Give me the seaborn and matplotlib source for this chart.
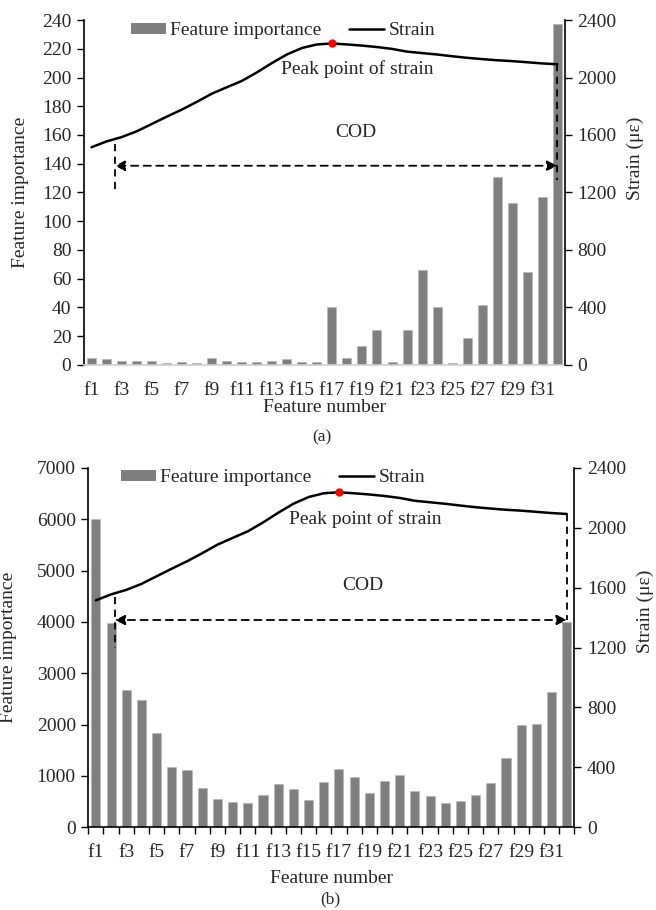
import numpy as np
import pandas as pd
import matplotlib
matplotlib.use('Agg')
import matplotlib.pyplot as plt
from matplotlib.lines import Line2D
from matplotlib.patches import Patch
import seaborn as sns

features = [f'f{i}' for i in range(1, 33)]
tick_labels = [f if i % 2 == 0 else '' for i, f in enumerate(features)]

importance_a = [5, 4, 3, 3, 3, 1, 2, 1, 5, 3, 2, 2, 3, 4, 2, 2,
                40, 5, 13, 24, 2, 24, 66, 40, 1, 19, 42, 131, 113, 65, 117, 237]
importance_b = [6000, 3980, 2670, 2470, 1845, 1175, 1125, 757, 560, 500, 466, 635,
                848, 740, 532, 884, 1128, 975, 675, 903, 1012, 713, 609, 468,
                520, 628, 870, 1342, 1990, 2016, 2640, 4000]
strain = [1515, 1555, 1585, 1625, 1676, 1727, 1776, 1830, 1887, 1932, 1976, 2035,
          2100, 2160, 2205, 2230, 2237, 2230, 2222, 2212, 2199, 2180, 2170, 2160,
          2148, 2137, 2128, 2120, 2114, 2106, 2098, 2092]

sns.set_theme(style='white')
plt.rcParams['font.family'] = ['Liberation Serif', 'DejaVu Serif']

BAR = '#7f7f7f'
FS = 14


def draw_panel(ax, values, ylim, ystep, cod_left, cod_y, black_base, lab_x, xlab_y, leg_x):
    df = pd.DataFrame({'feature': features, 'importance': values})
    sns.barplot(data=df, x='feature', y='importance', color=BAR, width=0.6,
                saturation=1, ax=ax, edgecolor='#b5b5b5', linewidth=0.4)
    ax.set_xlim(-0.5, 31.5)
    ax.set_ylim(0, ylim)
    ax.set_yticks(np.arange(0, ylim + 1, ystep))
    ax.set_xticks(range(32))
    ax.set_xticklabels(tick_labels, fontsize=FS)
    ax.tick_params(axis='y', labelsize=FS, direction='out', length=5, width=1,
                   left=True, color='black', pad=4)
    ax.set_ylabel('Feature importance', fontsize=FS)
    ax.yaxis.set_label_coords(lab_x, 0.5)
    ax.set_xlabel('Feature number', fontsize=FS)
    ax.xaxis.set_label_coords(0.5, xlab_y)
    for s in ['top', 'right']:
        ax.spines[s].set_visible(False)
    ax.spines['left'].set_color('black')
    ax.spines['left'].set_linewidth(1.2)
    if black_base:
        ax.spines['bottom'].set_color('black')
        ax.spines['bottom'].set_linewidth(1.2)
        ax.set_xticks(np.arange(-0.5, 32, 1), minor=True)
        ax.tick_params(axis='x', which='minor', bottom=True, length=5, width=1,
                       direction='out', color='black')
        ax.tick_params(axis='x', which='major', bottom=False, pad=6)
    else:
        ax.spines['bottom'].set_color('#d0d0d0')
        ax.spines['bottom'].set_linewidth(1.2)
        ax.tick_params(axis='x', bottom=False, pad=6)

    ax2 = ax.twinx()
    x = np.arange(32)
    sns.lineplot(x=x, y=strain, ax=ax2, color='black', linewidth=1.8)
    peak = int(np.argmax(strain))
    ax2.plot(x[peak], strain[peak], 'o', color='red', markersize=5, zorder=5)
    ax2.set_ylim(0, 2400)
    ax2.set_yticks(np.arange(0, 2401, 400))
    ax2.set_xlim(-0.5, 31.5)
    ax2.tick_params(axis='y', labelsize=FS, direction='out', length=5, width=1,
                    right=True, color='black', pad=4)
    ax2.set_ylabel('Strain (με)', fontsize=FS)
    ax2.yaxis.set_label_coords(1.128, 0.6)
    for s in ['top', 'left', 'bottom']:
        ax2.spines[s].set_visible(False)
    ax2.spines['right'].set_color('black')
    ax2.spines['right'].set_linewidth(1.2)

    # COD annotation
    dash = (0, (4, 3))
    ax2.plot([cod_left, cod_left], [strain[1] - 20, 1200], ls=dash, color='black', lw=1.3)
    ax2.plot([31, 31], [strain[-1], cod_y if black_base else 1290], ls=dash,
             color='black', lw=1.3)
    ax2.annotate('', xy=(cod_left, cod_y), xytext=(31, cod_y),
                 arrowprops=dict(arrowstyle='<|-|>', linestyle=dash, color='black',
                                 lw=1.3, mutation_scale=15, shrinkA=0, shrinkB=0))
    ax2.text(17.6, cod_y + 230, 'COD', ha='center', va='center', fontsize=FS)
    ax2.text(17.7, 2060, 'Peak point of strain', ha='center', va='center', fontsize=FS)

    handles = [Patch(facecolor=BAR, edgecolor='none'),
               Line2D([0], [0], color='black', lw=1.8)]
    ax.legend(handles, ['Feature importance', 'Strain'], loc='upper center', ncol=2,
              frameon=False, fontsize=FS, bbox_to_anchor=(leg_x, 1.045),
              handlelength=1.8, handleheight=0.5, handletextpad=0.25, columnspacing=1.4)


fig = plt.figure(figsize=(6.56, 9.10), dpi=100)
ax_a = fig.add_axes([0.128, 0.599, 0.733, 0.379])
ax_b = fig.add_axes([0.1346, 0.0909, 0.741, 0.395])

draw_panel(ax_a, importance_a, 240, 20, 1.55, 1386, False, -0.115, -0.1, 0.414)
draw_panel(ax_b, importance_b, 7000, 1000, 1.25, 1384, True, -0.146, -0.12, 0.38)

fig.text(322 / 656, 1 - 437 / 910, '(a)', ha='center', va='center', fontsize=12.5)
fig.text(330 / 656, 1 - 899 / 910, '(b)', ha='center', va='center', fontsize=12.5)

fig.savefig('out.png', dpi=100)
